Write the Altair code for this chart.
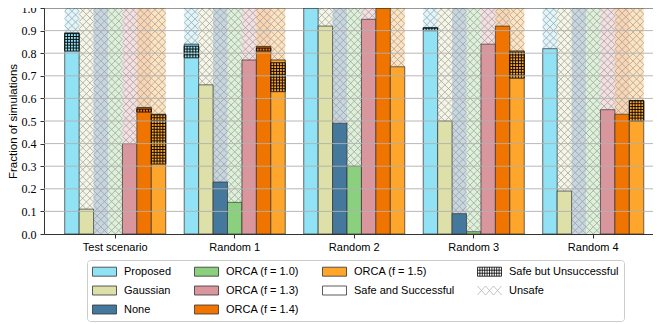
import altair as alt
import pandas as pd

# ---------------- data ----------------
groups = ["Test scenario", "Random 1", "Random 2", "Random 3", "Random 4"]
methods = ["Proposed", "Gaussian", "None", "ORCA (f = 1.0)",
           "ORCA (f = 1.3)", "ORCA (f = 1.4)", "ORCA (f = 1.5)"]
method_colors = ["#91e2f4", "#dde0a9", "#44799d", "#8bd07f",
                 "#d9969c", "#f07400", "#fea52c"]

# fraction of simulations that were safe and successful
successful = {
    "Test scenario": [0.81, 0.11, 0.00, 0.00, 0.40, 0.54, 0.31],
    "Random 1":      [0.78, 0.66, 0.23, 0.14, 0.77, 0.81, 0.63],
    "Random 2":      [1.00, 0.92, 0.49, 0.30, 0.95, 1.00, 0.74],
    "Random 3":      [0.90, 0.50, 0.09, 0.01, 0.84, 0.92, 0.69],
    "Random 4":      [0.82, 0.19, 0.00, 0.00, 0.55, 0.53, 0.50],
}
# fraction of simulations that were safe but unsuccessful
safe_unsuccessful = {
    "Test scenario": [0.08, 0.00, 0.00, 0.00, 0.00, 0.02, 0.22],
    "Random 1":      [0.06, 0.00, 0.00, 0.00, 0.00, 0.02, 0.14],
    "Random 2":      [0.00, 0.00, 0.00, 0.00, 0.00, 0.00, 0.00],
    "Random 3":      [0.01, 0.00, 0.00, 0.00, 0.00, 0.00, 0.12],
    "Random 4":      [0.00, 0.00, 0.00, 0.00, 0.00, 0.00, 0.09],
}
tick_values = [0.0, 0.1, 0.2, 0.3, 0.4, 0.5, 0.6, 0.7, 0.8, 0.9, 1.0]
grid_values = [0.1, 0.2, 0.3, 0.4, 0.5, 0.6, 0.7, 0.8, 0.9]

rows = []
for g in groups:
    for m, c, s, u in zip(methods, method_colors, successful[g], safe_unsuccessful[g]):
        rows.append({"group": g, "method": m, "color": c,
                     "succ": s, "top": round(s + u, 4)})
df = pd.DataFrame(rows)

# ---------------- styling / layout ----------------
PLOT_W, PLOT_H = 609, 226
BAR_W = 14.43
X_STEP = (BAR_W / 2) / PLOT_H          # one row of 45deg crosses
G_STEP = (BAR_W * 0.2) / PLOT_H        # one row of the dense grid

x_path = "M-1,-0.5L0,0.5M0,-0.5L-1,0.5M0,-0.5L1,0.5M1,-0.5L0,0.5"
grid_path = "M-1,-0.2L1,-0.2" + "".join(
    f"M{x},-0.2L{x},0.2" for x in (-1, -0.6, -0.2, 0.2, 0.6, 1))

SANS = "Liberation Sans"
SERIF = "Liberation Serif"

x_enc = alt.X("group:N", sort=groups,
              scale=alt.Scale(paddingInner=0, paddingOuter=0.048, align=1),
              axis=alt.Axis(title=None, labelAngle=0, labelFont=SANS, labelFontSize=11,
                            labelColor="#000", tickSize=4, tickColor="#333",
                            domainColor="#333", domainWidth=1, labelPadding=3,
                            grid=False))
xo_enc = alt.XOffset("method:N", sort=methods,
                     scale=alt.Scale(paddingInner=0, paddingOuter=0.64))
y_scale = alt.Scale(domain=[0, 1], nice=False, zero=True)
y_axis = alt.Axis(values=tick_values, format=".1f", title="Fraction of simulations",
                  labelFont=SERIF, labelFontSize=12, labelColor="#000",
                  titleFont=SANS, titleFontSize=11.5, titleFontWeight="normal",
                  titleColor="#000", titlePadding=3, labelPadding=4,
                  tickSize=4, tickColor="#333", domainColor="#333", domainWidth=1,
                  grid=False)


def Y(field):
    return alt.Y(field, scale=y_scale, axis=y_axis)


base = alt.Chart(df).encode(x=x_enc, xOffset=xo_enc)

unsafe = base.mark_bar(fillOpacity=0.3, strokeWidth=0).encode(
    y=Y("top:Q"), y2=alt.datum(1),
    color=alt.Color("color:N", scale=None))

hatch = base.transform_calculate(
    row=f"sequence(datum.top + {X_STEP / 2}, 1 + {X_STEP / 2}, {X_STEP})"
).transform_flatten(["row"]).mark_point(
    shape=x_path, size=BAR_W * BAR_W, filled=False, stroke="#9a9a9a",
    strokeWidth=0.7, opacity=1, clip=True
).encode(y=Y("row:Q"))

solid = base.transform_filter("datum.succ > 0").mark_bar(
    stroke="#333333", strokeWidth=0.8, strokeOpacity=0.9).encode(
    y=Y("succ:Q"), y2=alt.datum(0),
    color=alt.Color("color:N", scale=None))

sbu = base.transform_filter("datum.top > datum.succ + 0.0001").mark_bar(
    stroke="#222222", strokeWidth=0.8).encode(
    y=Y("top:Q"), y2="succ:Q",
    color=alt.Color("color:N", scale=None))

sbu_grid = base.transform_filter("datum.top > datum.succ + 0.0001").transform_calculate(
    row=(f"sequence(datum.succ + {G_STEP / 2}, "
         f"max(datum.top - {G_STEP / 2}, datum.succ + {G_STEP / 2}) + 0.000001, {G_STEP})")
).transform_flatten(["row"]).mark_point(
    shape=grid_path, size=BAR_W * BAR_W, filled=False, stroke="#000",
    strokeWidth=0.9, opacity=1, clip=True
).encode(y=Y("row:Q"))

grid = alt.Chart(pd.DataFrame({"v": grid_values})).mark_rule(
    color="#b0b0b0", strokeWidth=0.9).encode(y=Y("v:Q"))

top_rule = alt.Chart(pd.DataFrame({"v": [1.0]})).mark_rule(
    color="#333333", strokeWidth=1).encode(y=Y("v:Q"))

# ---------------- legend ----------------
# legend swatches: 24 x 9 px, drawn with a symbol of size 12x12 px (unit = 6 px)
rect = "M-1,-0.75L3,-0.75L3,0.75L-1,0.75Z"
sbu_sw = ("".join(f"M-1,{y}L3,{y}" for y in (-0.75, -0.25, 0.25, 0.75))
          + "".join(f"M{round(-1 + 0.4 * k, 2)},-0.75L{round(-1 + 0.4 * k, 2)},0.75"
                    for k in range(11)))
unsafe_sw = "".join(
    f"M{round(-1 + 4 / 3 * k, 3)},-0.75L{round(-1 + 4 / 3 * (k + 1), 3)},0.75"
    f"M{round(-1 + 4 / 3 * (k + 1), 3)},-0.75L{round(-1 + 4 / 3 * k, 3)},0.75"
    for k in range(3))

legend_keys = ["Proposed", "ORCA (f = 1.0)", "ORCA (f = 1.5)", "Safe but Unsuccessful",
               "Gaussian", "ORCA (f = 1.3)", "Safe and Successful", "Unsafe",
               "None", "ORCA (f = 1.4)"]
col_of = dict(zip(methods, method_colors))
legend_fill = [col_of.get(k, "#ffffff") for k in legend_keys]
legend_stroke = []
legend_shape = []
for k in legend_keys:
    if k == "Safe but Unsuccessful":
        legend_stroke.append("#000000"); legend_shape.append(sbu_sw)
    elif k == "Unsafe":
        legend_stroke.append("#b5b5b5"); legend_shape.append(unsafe_sw)
    else:
        legend_stroke.append("#333333"); legend_shape.append(rect)

leg = alt.Legend(title=None, orient="none", legendX=43, legendY=252, columns=4,
                 direction="horizontal", gridAlign="each", columnPadding=20,
                 rowPadding=6, padding=5, strokeColor="#cccccc", cornerRadius=3,
                 fillColor="white", symbolSize=144, symbolStrokeWidth=0.8,
                 symbolOpacity=1, labelFont=SANS, labelFontSize=11,
                 labelColor="#000", labelOffset=19)

legend_layer = alt.Chart(pd.DataFrame({"key": legend_keys})).transform_filter(
    "false").mark_point(filled=True, opacity=1).encode(
    fill=alt.Fill("key:N", scale=alt.Scale(domain=legend_keys, range=legend_fill), legend=leg),
    stroke=alt.Stroke("key:N", scale=alt.Scale(domain=legend_keys, range=legend_stroke), legend=leg),
    shape=alt.Shape("key:N", scale=alt.Scale(domain=legend_keys, range=legend_shape), legend=leg),
)

chart = alt.layer(unsafe, hatch, solid, sbu, sbu_grid, grid, top_rule, legend_layer).properties(
    width=PLOT_W, height=PLOT_H,
    autosize=alt.AutoSizeParams(type="none"),
    padding={"left": 36, "top": 0, "right": 0, "bottom": 90},
).configure_view(stroke=None)

chart.save("out.html", embed_options={"renderer": "svg", "actions": False})
